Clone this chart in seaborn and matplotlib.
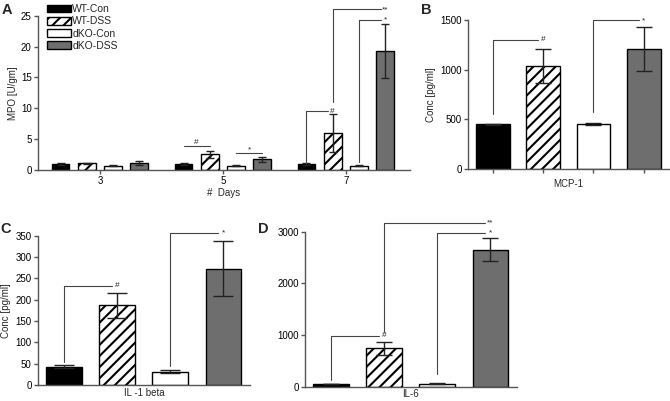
import numpy as np
import pandas as pd
import matplotlib
matplotlib.use("Agg")
import matplotlib.pyplot as plt
import seaborn as sns

# Groups and colours
groups = ["WT-Con", "WT-DSS", "dKO-Con", "dKO-DSS"]
colors = ["#000000", "#ffffff", "#ffffff", "#6e6e6e"]

# Panel A - MPO over days
days = ["3", "5", "7"]
mpo_wt_con = [0.97, 0.97, 0.97]
mpo_wt_dss = [1.08, 2.54, 6.0]
mpo_dko_con = [0.7, 0.7, 0.7]
mpo_dko_dss = [1.1, 1.78, 19.3]
mpo_err_wt_con = [0.1, 0.1, 0.1]
mpo_err_wt_dss = [0.1, 0.6, 3.1]
mpo_err_dko_con = [0.05, 0.05, 0.05]
mpo_err_dko_dss = [0.35, 0.4, 4.4]

# Panels B-D - cytokines
mcp1 = [450, 1035, 450, 1210]
mcp1_err = [5, 170, 8, 222]
il1b = [43, 187, 31, 273]
il1b_err = [3, 29, 4, 64]
il6 = [50, 740, 60, 2655]
il6_err = [5, 130, 5, 222]

# Significance markers: (left bar, right bar, bottom, top, label)
sig_a_lines = [(4, 5, 3.9, "#"), (6, 7, 2.7, "*")]
sig_a = [(8, 9, 1.1, 9.5, "#"), (9, 11, 11.0, 26.0, "**"), (10, 11, 1.3, 24.3, "*")]
sig_b = [(0, 1, 554, 1300, "#"), (2, 3, 575, 1495, "*")]
sig_c = [(0, 1, 55, 233, "#"), (2, 3, 45, 356, "*")]
sig_d = [(0, 1, 130, 987, "#"), (1, 3, 1065, 3162, "**"), (2, 3, 245, 2968, "*")]

sns.set_style("ticks")
plt.rcParams["font.family"] = ["Liberation Sans", "DejaVu Sans"]
plt.rcParams["hatch.linewidth"] = 1.5
spine_col = "#555555"
line_col = "#444444"
hatch = "///"


def style_axes(ax):
    sns.despine(ax=ax)
    for s in ["left", "bottom"]:
        ax.spines[s].set_color(spine_col)
        ax.spines[s].set_linewidth(1.0)
    ax.tick_params(axis="both", colors=spine_col, labelcolor="black",
                   labelsize=7, length=3, width=1.0, pad=1.5)


def bar_centers(ax):
    bars = [p for c in ax.containers for p in c.patches]
    bars = sorted(bars, key=lambda p: p.get_x())
    return bars, [p.get_x() + p.get_width() / 2 for p in bars], [p.get_height() for p in bars]


def bracket(ax, xs, spec, gap):
    for i, j, lo, top, lab in spec:
        ax.plot([xs[i], xs[i], xs[j] - gap], [lo, top, top], color=line_col,
                lw=0.8, clip_on=False)
        ax.text(xs[j], top, lab, ha="center", va="center", fontsize=6,
                clip_on=False)


fig = plt.figure(figsize=(6.7, 4.01), dpi=100)

# ---- Panel A
axA = fig.add_axes([0.0567, 0.576, 0.555, 0.385])
dfA = pd.DataFrame({
    "day": days * 4,
    "mpo": mpo_wt_con + mpo_wt_dss + mpo_dko_con + mpo_dko_dss,
    "err": mpo_err_wt_con + mpo_err_wt_dss + mpo_err_dko_con + mpo_err_dko_dss,
    "group": [g for g in groups for _ in days],
})
sns.barplot(data=dfA, x="day", y="mpo", hue="group", hue_order=groups,
            palette=colors, width=0.855, gap=0.32, edgecolor="black",
            linewidth=1.0, errorbar=None, ax=axA)
bars, xs, vals = bar_centers(axA)
# bars sorted by position: day-major, group-minor
errs = [dfA[(dfA.day == d) & (dfA.group == g)].err.iloc[0] for d in days for g in groups]
for k, p in enumerate(bars):
    if k % 4 == 1:
        p.set_hatch(hatch)
axA.errorbar(xs, vals, yerr=errs, fmt="none", ecolor="#222222",
             elinewidth=1.0, capsize=3, capthick=1.0)
for i, j, y, lab in sig_a_lines:
    axA.plot([xs[i], xs[j]], [y, y], color=line_col, lw=0.8)
    axA.text((xs[i] + xs[j]) / 2, y, lab, ha="center", va="bottom", fontsize=6)
bracket(axA, xs, sig_a, 0.035)
axA.set_xlim(-0.504, 2.52)
axA.set_ylim(0, 25)
axA.set_yticks([0, 5, 10, 15, 20, 25])
axA.set_xlabel("#  Days", fontsize=7, labelpad=1)
axA.set_ylabel("MPO [U/gm]", fontsize=7, labelpad=2)
style_axes(axA)
leg = axA.legend(loc="upper left", bbox_to_anchor=(0.024, 1.075), frameon=False,
                 fontsize=7.5, handlelength=2.3, handleheight=0.75,
                 handletextpad=0.15, labelspacing=0.22, borderpad=0,
                 borderaxespad=0)
for k, h in enumerate(leg.get_patches()):
    h.set_edgecolor("black")
    if k == 1:
        h.set_hatch(hatch)


def cyto_panel(rect, vals, errs, ylim, yticks, xlabel, ylabel, spec, cap, xticks, lpad):
    ax = fig.add_axes(rect)
    sns.barplot(x=groups, y=vals, hue=groups, palette=colors, legend=False,
                width=0.67, edgecolor="black", linewidth=1.0, ax=ax)
    bars, xs, hs = bar_centers(ax)
    bars[1].set_hatch(hatch)
    ax.errorbar(xs, hs, yerr=errs, fmt="none", ecolor="#222222",
                elinewidth=1.0, capsize=cap, capthick=1.0)
    bracket(ax, xs, spec, 0.1)
    ax.set_xlim(-0.49, 3.5)
    ax.set_ylim(*ylim)
    ax.set_yticks(yticks)
    ax.set_xticks(range(4))
    ax.set_xticklabels([""] * 4)
    ax.set_xlabel(xlabel, fontsize=7, labelpad=lpad)
    ax.set_ylabel(ylabel, fontsize=7, labelpad=3)
    style_axes(ax)
    if not xticks:
        ax.tick_params(axis="x", length=0, pad=0)
    return ax


axB = cyto_panel([0.6985, 0.5786, 0.3, 0.3716], mcp1, mcp1_err, (0, 1500),
                 [0, 500, 1000, 1500], "MCP-1", "Conc [pg/ml]", sig_b, 5.5, True, 3)
axC = cyto_panel([0.0567, 0.0399, 0.3164, 0.3723], il1b, il1b_err, (0, 350),
                 list(range(0, 351, 50)), "IL -1 beta", "Conc [pg/ml]", sig_c, 7, False, 2.5)
axD = cyto_panel([0.4552, 0.0357, 0.3164, 0.3865], il6, il6_err, (0, 3000),
                 [0, 1000, 2000, 3000], "IL-6", "", sig_d, 6, False, 2)

# Panel letters
for lab, x, y in [("A", 0.003, 0.975), ("B", 0.628, 0.975),
                  ("C", 0.0, 0.43), ("D", 0.385, 0.43)]:
    fig.text(x, y, lab, fontsize=10.5, fontweight="bold", va="center")

fig.savefig("out.png", dpi=100)
